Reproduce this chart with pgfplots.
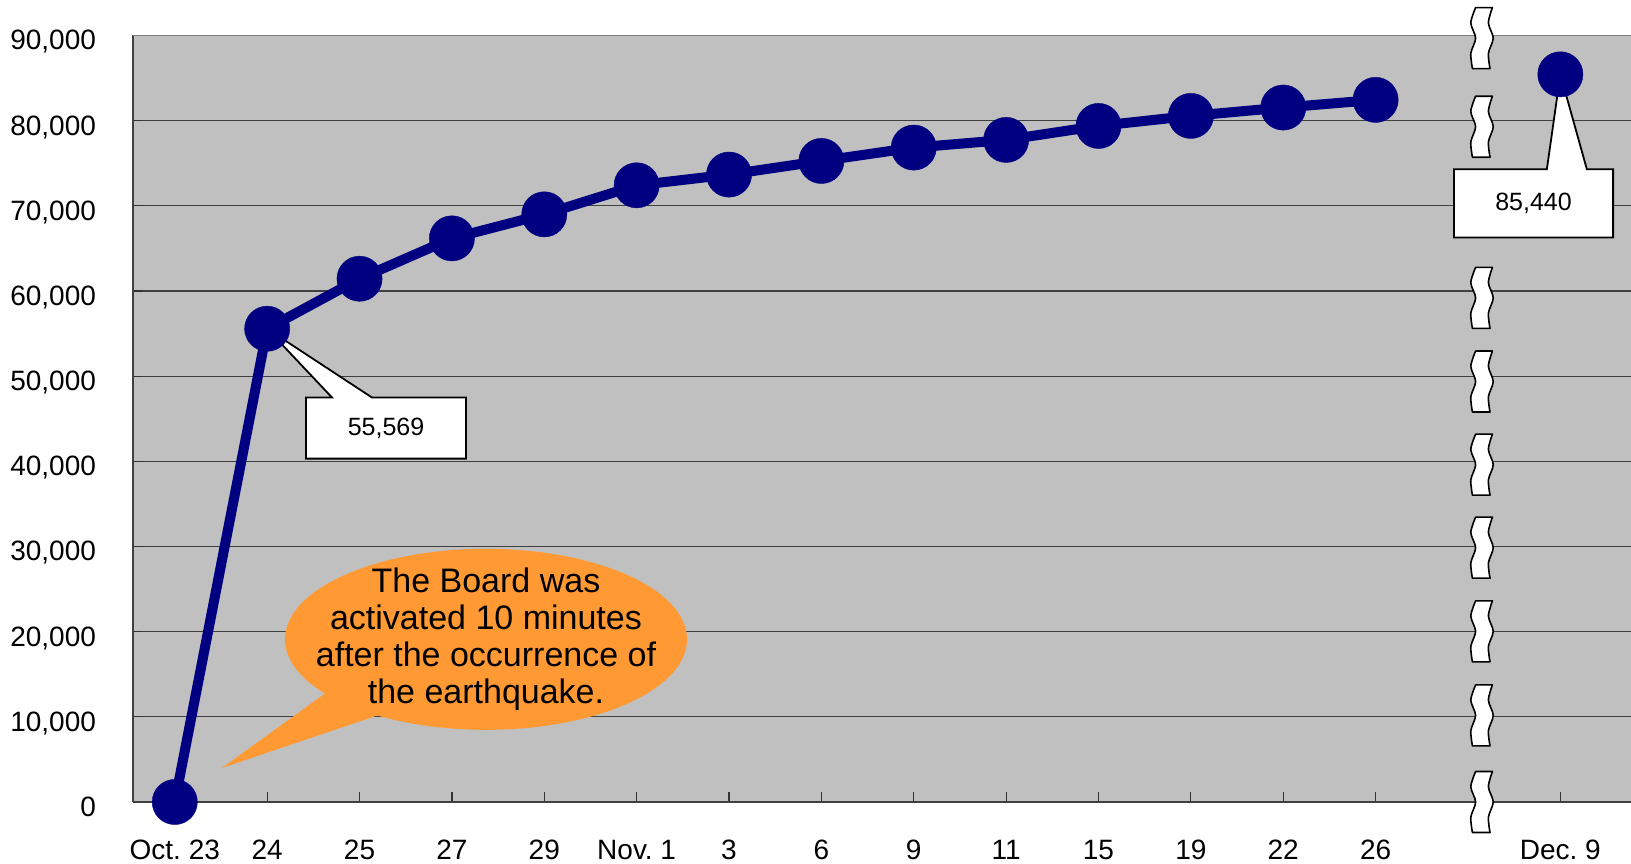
\documentclass[border=0pt]{standalone}
\usepackage{fontspec}
\setmainfont{Liberation Sans}
\usepackage{pgfplots}
\pgfplotsset{compat=1.18}
\definecolor{navyline}{RGB}{0,0,128}
\definecolor{plotgray}{RGB}{192,192,192}
\definecolor{callorange}{RGB}{255,153,51}
\definecolor{bordergray}{RGB}{128,128,128}

\begin{document}
\begin{tikzpicture}
\begin{axis}[
  scale only axis, width=749pt, height=383.25pt,
  xmin=-0.4525, xmax=15.765, ymin=0, ymax=90000,
  clip=false,
  axis x line*=bottom, axis y line*=left,
  axis line style={-, black!75, line width=0.9pt},
  axis background/.style={fill=plotgray},
  xtick={0,1,2,3,4,5,6,7,8,9,10,11,12,13,15},
  xticklabels={Oct.\ 23,24,25,27,29,Nov.\ 1,3,6,9,11,15,19,22,26,Dec.\ 9},
  ytick={0,10000,20000,30000,40000,50000,60000,70000,80000,90000},
  scaled y ticks=false,
  /pgf/number format/1000 sep={,},
  /pgf/number format/assume math mode=true,
  ticklabel style={font=\fontsize{14}{16}\selectfont},
  typeset ticklabels with strut,
  yticklabel style={xshift=-15pt, yshift=-4pt},
  xticklabel style={yshift=-14pt},
  tick align=inside, major tick length=5pt,
  tick style={black!80, line width=0.6pt},
  ymajorgrids,
  major grid style={black!75, line width=0.6pt},
]
% callout 55,569
\filldraw[fill=white, draw=black, line width=0.9pt]
  (axis cs:1.420,47490) -- (axis cs:1.702,47490) -- (axis cs:1,55569) -- (axis cs:2.135,47490)
  -- (axis cs:3.153,47490) -- (axis cs:3.153,40320) -- (axis cs:1.420,40320) -- cycle;
\node[font=\fontsize{12.5}{14}\selectfont] at (axis cs:2.287,43905) {55,569};
% callout 85,440
\filldraw[fill=white, draw=black, line width=0.9pt]
  (axis cs:13.849,74290) -- (axis cs:14.854,74290) -- (axis cs:15,85440) -- (axis cs:15.287,74290)
  -- (axis cs:15.571,74290) -- (axis cs:15.571,66290) -- (axis cs:13.849,66290) -- cycle;
\node[font=\fontsize{12.5}{14}\selectfont] at (axis cs:14.71,70290) {85,440};
% orange speech bubble
\fill[callorange] (axis cs:3.369,19100) ellipse [x radius=100.5pt, y radius=45.25pt];
\fill[callorange] (axis cs:1.681,13166) -- (axis cs:0.511,4000) -- (axis cs:2.275,10462) -- cycle;
\node[align=center, font=\fontsize{17}{18.5}\selectfont] at (axis cs:3.369,19100)
  {The Board was\\activated 10 minutes\\after the occurrence of\\the earthquake.};
% data
\addplot[navyline, line width=5pt, line join=round,
  mark=*, mark size=11.3pt, mark options={fill=navyline, draw=navyline, line width=0.2pt}]
  coordinates {(0,0) (1,55569) (2,61440) (3,66180) (4,69000) (5,72410) (6,73670)
  (7,75270) (8,76840) (9,77740) (10,79380) (11,80560) (12,81540) (13,82440)};
\addplot[only marks, mark=*, mark size=11.3pt,
  mark options={fill=navyline, draw=navyline, line width=0.2pt}]
  coordinates {(15,85440)};
\coordinate (b0) at (axis cs:14.152,89690);
\coordinate (b1) at (axis cs:14.152,79290);
\coordinate (b3) at (axis cs:14.152,59190);
\coordinate (b4) at (axis cs:14.152,49370);
\coordinate (b5) at (axis cs:14.152,39610);
\coordinate (b6) at (axis cs:14.152,29860);
\coordinate (b7) at (axis cs:14.152,20040);
\coordinate (b8) at (axis cs:14.152,10170);
\coordinate (b9) at (axis cs:14.152,0);
\coordinate (sw) at (rel axis cs:0,0);
\coordinate (ne) at (rel axis cs:1,1);
\end{axis}
\draw[bordergray, line width=0.9pt] (sw|-ne) -- (ne);
\foreach \b in {b0,b1,b3,b4,b5,b6,b7,b8,b9}{
  \begin{scope}[shift={(\b)}]
  \draw[fill=white, line width=0.8pt, line join=round]
    plot[smooth] coordinates {(-3.2pt,15.25pt) (-5.6pt,7.6pt) (-3.2pt,0pt) (-5.6pt,-7.6pt) (-4.8pt,-15.25pt)}
    -- plot[smooth] coordinates {(4.0pt,-15.25pt) (3.2pt,-7.6pt) (5.6pt,0pt) (3.2pt,7.6pt) (5.2pt,15.25pt)}
    -- cycle;
  \end{scope}
}
\pgfresetboundingbox
\useasboundingbox ([shift={(-66.5pt,-31pt)}]sw) rectangle ([shift={(0pt,17.75pt)}]ne);
\end{tikzpicture}
\end{document}
